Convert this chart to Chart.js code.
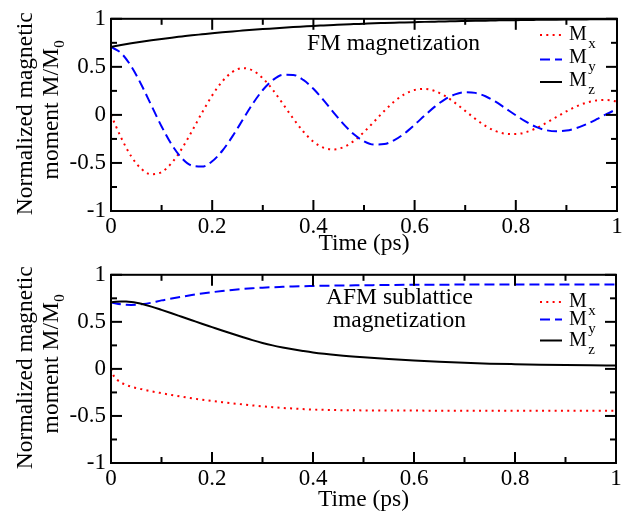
<!DOCTYPE html>
<html><head><meta charset="utf-8">
<script src="https://cdn.jsdelivr.net/npm/chart.js@4.4.1/dist/chart.umd.min.js"></script>
<style>
html,body{margin:0;padding:0;background:#fff;}
#wrap{position:relative;width:631px;height:512px;overflow:hidden;background:#fff;}
canvas{position:absolute;left:0;}
</style></head><body>
<div id="wrap">
<canvas id="fm" width="631" height="256" style="top:0px"></canvas>
<canvas id="afm" width="631" height="256" style="top:256px"></canvas>
</div>
<script>
// ---------- data ----------
const timeFM = [0,0.02,0.04,0.06,0.08,0.10,0.12,0.14,0.16,0.18,0.20,0.22,0.24,0.26,0.28,0.30,0.32,0.34,0.36,0.38,0.40,0.42,0.44,0.46,0.48,0.50,0.52,0.54,0.56,0.58,0.60,0.62,0.64,0.66,0.68,0.70,0.72,0.74,0.76,0.78,0.80,0.82,0.84,0.86,0.88,0.90,0.92,0.94,0.96,0.98,1.00];
const fmMx = [0,-0.237,-0.432,-0.562,-0.618,-0.594,-0.500,-0.352,-0.169,0.024,0.203,0.349,0.447,0.487,0.462,0.381,0.259,0.113,-0.037,-0.173,-0.278,-0.342,-0.359,-0.335,-0.271,-0.178,-0.070,0.041,0.139,0.215,0.260,0.271,0.249,0.197,0.125,0.042,-0.041,-0.114,-0.169,-0.196,-0.200,-0.180,-0.139,-0.084,-0.023,0.037,0.089,0.128,0.151,0.155,0.139];
const fmMy = [0.707,0.643,0.505,0.314,0.096,-0.120,-0.309,-0.450,-0.528,-0.538,-0.483,-0.373,-0.224,-0.054,0.115,0.259,0.363,0.417,0.416,0.364,0.272,0.153,0.024,-0.099,-0.202,-0.274,-0.309,-0.304,-0.263,-0.193,-0.103,-0.006,0.086,0.162,0.213,0.236,0.229,0.194,0.138,0.067,-0.004,-0.071,-0.125,-0.159,-0.171,-0.163,-0.137,-0.096,-0.045,0.010,0.062];
const fmMz = [0.707,0.727,0.745,0.762,0.777,0.791,0.804,0.816,0.828,0.839,0.850,0.860,0.869,0.877,0.885,0.893,0.900,0.907,0.914,0.920,0.926,0.931,0.936,0.941,0.945,0.949,0.953,0.956,0.959,0.962,0.965,0.968,0.970,0.972,0.975,0.977,0.979,0.981,0.983,0.985,0.986,0.988,0.989,0.990,0.991,0.992,0.993,0.994,0.995,0.995,0.996];

const timeAFM = [0,0.005,0.01,0.02,0.03,0.04,0.05,0.06,0.08,0.10,0.12,0.14,0.16,0.18,0.20,0.22,0.24,0.26,0.28,0.30,0.32,0.34,0.36,0.38,0.40,0.45,0.50,0.55,0.60,0.65,0.70,0.75,0.80,0.85,0.90,0.95,1.00];
const afmMx = [0,-0.070,-0.105,-0.145,-0.170,-0.190,-0.203,-0.215,-0.238,-0.258,-0.277,-0.295,-0.312,-0.327,-0.341,-0.354,-0.366,-0.377,-0.388,-0.398,-0.407,-0.415,-0.421,-0.427,-0.432,-0.438,-0.441,-0.442,-0.443,-0.444,-0.444,-0.445,-0.445,-0.445,-0.445,-0.445,-0.445];
const afmMy = [0.707,0.700,0.694,0.686,0.681,0.680,0.682,0.687,0.703,0.728,0.748,0.767,0.785,0.801,0.815,0.828,0.839,0.849,0.857,0.863,0.868,0.872,0.876,0.879,0.881,0.886,0.889,0.892,0.894,0.895,0.896,0.897,0.897,0.898,0.898,0.898,0.898];
const afmMz = [0.707,0.711,0.714,0.717,0.716,0.711,0.703,0.692,0.662,0.627,0.591,0.554,0.517,0.480,0.444,0.408,0.373,0.339,0.306,0.276,0.250,0.228,0.208,0.190,0.174,0.145,0.123,0.105,0.089,0.076,0.065,0.056,0.050,0.045,0.041,0.038,0.036];

const xTicksStep = 0.2;
const yTicksStep = 0.5;
const seriesNames = ['M', 'M', 'M'];
const seriesSubs = ['x', 'y', 'z'];
const yTitleLines = ['Normalized magnetic', 'moment M/M', '0'];
const xTitle = 'Time (ps)';
const fmLabel = ['FM magnetization'];
const afmLabel = ['AFM sublattice', 'magnetization'];

// ---------- styles ----------
const SERIF = "'Liberation Serif','Times New Roman',serif";
const styles = [
  {color:'#ff0000', dash:[2,4.3]},
  {color:'#0000ff', dash:[10,5]},
  {color:'#000000', dash:[]}
];

function pts(t, v){ return t.map((x,i)=>({x:x, y:v[i]})); }
function fmtTick(v){ return String(Number(v.toFixed(2))); }

// ---------- plugins ----------
const framePlugin = {
  id:'frameTicks',
  afterDatasetsDraw(chart){
    const {ctx, chartArea:a, scales:{x, y}} = chart;
    ctx.save();
    ctx.strokeStyle = '#000';
    ctx.lineWidth = 2;
    const maj = 11, mnr = 6;
    const xv = x.ticks.map(t=>t.value);
    const yv = y.ticks.map(t=>t.value);
    const seg = (x1,y1,x2,y2)=>{ctx.beginPath();ctx.moveTo(x1,y1);ctx.lineTo(x2,y2);ctx.stroke();};
    xv.forEach((v,i)=>{
      const p = x.getPixelForValue(v);
      seg(p,a.bottom,p,a.bottom-maj); seg(p,a.top,p,a.top+maj);
      if(i<xv.length-1){ const q = x.getPixelForValue((v+xv[i+1])/2);
        seg(q,a.bottom,q,a.bottom-mnr); seg(q,a.top,q,a.top+mnr); }
    });
    yv.forEach((v,i)=>{
      const p = y.getPixelForValue(v);
      seg(a.left,p,a.left+maj,p); seg(a.right,p,a.right-maj,p);
      if(i<yv.length-1){ const q = y.getPixelForValue((v+yv[i+1])/2);
        seg(a.left,q,a.left+mnr,q); seg(a.right,q,a.right-mnr,q); }
    });
    ctx.strokeRect(a.left, a.top, a.right-a.left, a.bottom-a.top);
    ctx.restore();
  }
};

const textPlugin = {
  id:'panelText',
  afterDraw(chart, args, o){
    const ctx = chart.ctx, a = chart.chartArea;
    const cy = (a.top + a.bottom)/2;
    ctx.save();
    ctx.fillStyle = '#000';
    // y title line 1
    ctx.save();
    ctx.font = '23.5px ' + SERIF;
    ctx.translate(o.yTitleX1, cy - 1.2); ctx.rotate(-Math.PI/2);
    ctx.textAlign = 'center'; ctx.textBaseline = 'alphabetic';
    ctx.fillText(yTitleLines[0], 0, 0);
    ctx.restore();
    // y title line 2 with subscript
    ctx.save();
    ctx.translate(o.yTitleX2, cy + 64.5); ctx.rotate(-Math.PI/2);
    ctx.textAlign = 'left'; ctx.textBaseline = 'alphabetic';
    ctx.font = '23.5px ' + SERIF;
    const w1 = ctx.measureText(yTitleLines[1]).width;
    ctx.fillText(yTitleLines[1], 0, 0);
    ctx.font = '15px ' + SERIF;
    ctx.fillText(yTitleLines[2], w1 + 0.5, 6);
    ctx.restore();
    // annotation
    ctx.font = '23.5px ' + SERIF;
    ctx.textBaseline = 'alphabetic';
    ctx.textAlign = o.labelAlign;
    o.label.forEach((s,i)=> ctx.fillText(s, o.labelX, o.labelY[i]));
    // legend
    ctx.textAlign = 'left';
    styles.forEach((st,i)=>{
      const sy = o.legSampleY[i];
      ctx.save();
      ctx.strokeStyle = st.color; ctx.lineWidth = 2; ctx.setLineDash(st.dash);
      ctx.beginPath(); ctx.moveTo(o.legX0, sy); ctx.lineTo(o.legX1, sy); ctx.stroke();
      ctx.restore();
      ctx.font = '20px ' + SERIF;
      const by = o.legBaseY[i];
      ctx.fillText(seriesNames[i], o.legTextX, by);
      const mw = ctx.measureText(seriesNames[i]).width;
      ctx.font = '15px ' + SERIF;
      ctx.fillText(seriesSubs[i], o.legTextX + mw + 1.5, by + 8);
    });
    ctx.restore();
  }
};

function makeChart(id, t, mx, my, mz, pad, xh, titlePadBottom, textOpts){
  const vals = [mx, my, mz];
  return new Chart(document.getElementById(id), {
    type:'line',
    data:{ datasets: vals.map((v,i)=>({
      label: seriesNames[i] + seriesSubs[i],
      data: pts(t, v),
      borderColor: styles[i].color,
      borderDash: styles[i].dash,
      borderWidth: 2,
      pointRadius: 0,
      fill: false,
      cubicInterpolationMode: 'monotone',
      order: 2 - i,
      clip: 3
    }))},
    options:{
      responsive:false, animation:false, devicePixelRatio:1,
      layout:{padding:pad},
      plugins:{legend:{display:false}, tooltip:{enabled:false}, panelText:textOpts},
      scales:{
        x:{type:'linear', min:0, max:1,
          ticks:{stepSize:xTicksStep, color:'#000', font:{family:SERIF, size:23}, padding:2, maxRotation:0, autoSkip:false, callback:fmtTick},
          grid:{display:false, drawTicks:false}, border:{display:false},
          title:{display:true, text:xTitle, color:'#000', font:{family:SERIF, size:23.5, lineHeight:1}, padding:{top:0, bottom:titlePadBottom}},
          afterFit(s){ s.height = xh; }
        },
        y:{type:'linear', min:-1, max:1,
          ticks:{stepSize:yTicksStep, color:'#000', font:{family:SERIF, size:23}, padding:5, callback:fmtTick},
          grid:{display:false, drawTicks:false}, border:{display:false},
          afterFit(s){ s.width = 111; }
        }
      }
    },
    plugins:[framePlugin, textPlugin]
  });
}

makeChart('fm', timeFM, fmMx, fmMy, fmMz,
  {left:0, right:14, top:15, bottom:0}, 45, 0.3,
  {yTitleX1:32, yTitleX2:58, label:fmLabel, labelAlign:'left', labelX:307, labelY:[50],
   legX0:540, legX1:562, legTextX:569, legSampleY:[35,59.5,82], legBaseY:[39.5,62.5,85.5]});

makeChart('afm', timeAFM, afmMx, afmMy, afmMz,
  {left:0, right:15, top:11, bottom:0}, 49, 0.3,
  {yTitleX1:32, yTitleX2:58, label:afmLabel, labelAlign:'center', labelX:399.5, labelY:[47.7,71],
   legX0:540, legX1:562, legTextX:569, legSampleY:[46,63.5,84.5], legBaseY:[50.5,68.5,90]});
</script>
</body></html>
